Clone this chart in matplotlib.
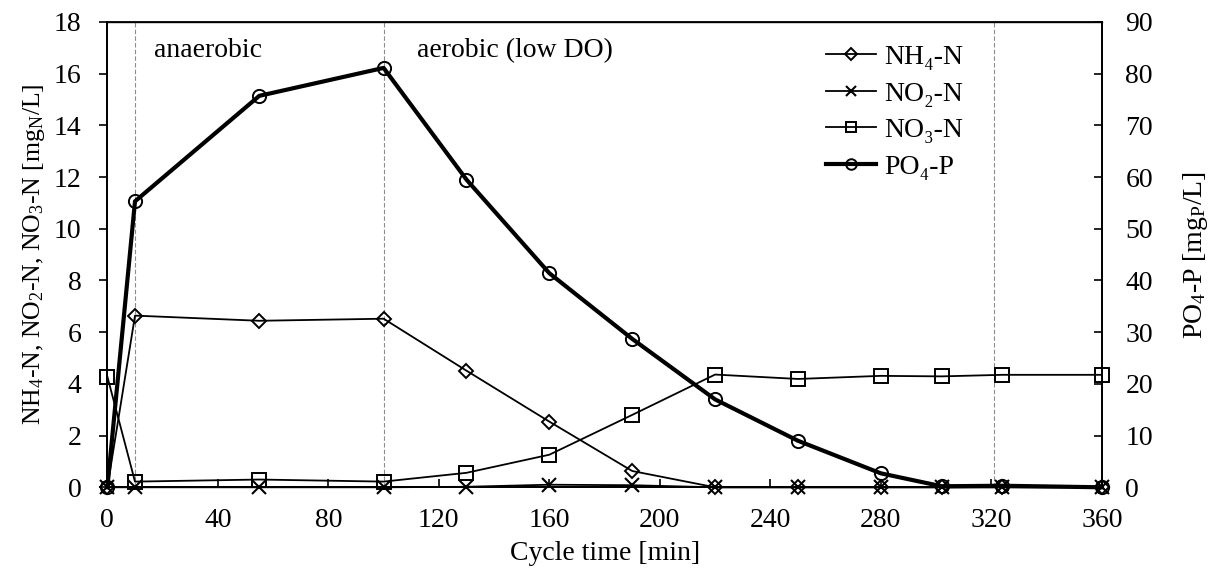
import matplotlib
matplotlib.use("Agg")
import matplotlib.pyplot as plt

plt.rcParams['font.family'] = ['Liberation Serif', 'DejaVu Serif']
plt.rcParams['mathtext.fontset'] = 'custom'
plt.rcParams['mathtext.rm'] = 'Liberation Serif'
plt.rcParams['mathtext.it'] = 'Liberation Serif:italic'
plt.rcParams['font.size'] = 20

# cycle time [min]
t = [0, 10, 55, 100, 130, 160, 190, 220, 250, 280, 302, 324, 360]
nh4 = [0, 6.64, 6.44, 6.52, 4.51, 2.54, 0.63, 0, 0, 0, 0, 0, 0]
no2 = [0, 0, 0, 0, 0.02, 0.1, 0.08, 0, 0, 0, 0, 0, 0]
no3 = [4.28, 0.22, 0.3, 0.22, 0.56, 1.26, 2.8, 4.36, 4.19, 4.31, 4.29, 4.35, 4.35]
po4 = [0, 55.3, 75.7, 81.1, 59.5, 41.4, 28.7, 17.0, 9.0, 2.7, 0.2, 0.3, 0]
phase_lines = [10, 100, 321]

fig = plt.figure(figsize=(12.16, 5.76), dpi=100)
ax = fig.add_axes([0.0883, 0.154, 0.8178, 0.808])
ax2 = ax.twinx()

for x in phase_lines:
    ax.axvline(x, color='#8c8c8c', ls=(0, (4, 2)), lw=0.8, zorder=1)

ms = 9.5
l1, = ax.plot(t, nh4, color='black', lw=1.3, marker='D', ms=ms * 0.75, mfc='none', mec='black', mew=1.4,
              label='NH₄-N', zorder=3, clip_on=False)
l2, = ax.plot(t, no2, color='black', lw=1.3, marker='x', ms=ms, mec='black', mew=1.5,
              label='NO₂-N', zorder=3, clip_on=False)
l3, = ax.plot(t, no3, color='black', lw=1.3, marker='s', ms=ms, mfc='none', mec='black', mew=1.4,
              label='NO₃-N', zorder=3, clip_on=False)
l4, = ax2.plot(t, po4, color='black', lw=3, marker='o', ms=ms, mfc='none', mec='black', mew=1.4,
               label='PO₄-P', zorder=3, clip_on=False)

ax.set_xlim(0, 360)
ax.set_ylim(0, 18)
ax2.set_ylim(0, 90)
ax.set_xticks(range(0, 361, 40))
ax.set_yticks(range(0, 19, 2))
ax2.set_yticks(range(0, 91, 10))

ax.tick_params(axis='x', direction='in', length=6, width=1.2, pad=15)
ax.tick_params(axis='y', direction='out', length=5.5, width=1.2, pad=13)
ax2.tick_params(axis='y', direction='in', length=6, width=1.2, pad=17)
for a in (ax, ax2):
    for s in a.spines.values():
        s.set_linewidth(1.3)
ax.spines['top'].set_linewidth(1.0)

ax.set_xlabel('Cycle time [min]', labelpad=6)
ax.set_ylabel('NH$_4$-N, NO$_2$-N, NO$_3$-N [mg$_\\mathrm{N}$/L]', fontsize=18.5, labelpad=5)
ax2.set_ylabel('PO$_4$-P [mg$_\\mathrm{P}$/L]', labelpad=20)

ax.text(17, 16.9, 'anaerobic', ha='left', va='center')
ax.text(112, 16.9, 'aerobic (low DO)', ha='left', va='center')

ax2.legend(handles=[l1, l2, l3, l4], loc='upper left', bbox_to_anchor=(0.711, 0.975),
           frameon=False, markerscale=0.8, handlelength=1.8, handletextpad=0.3,
           labelspacing=0.4, borderaxespad=0)

plt.savefig('out.png', dpi=100)
